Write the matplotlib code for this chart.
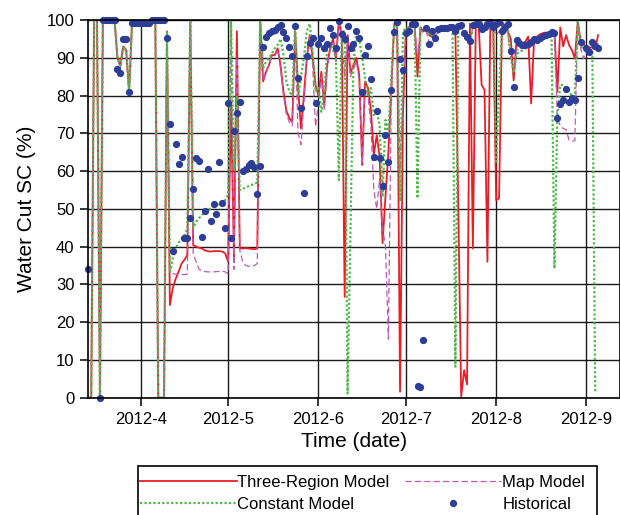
import numpy as np
import matplotlib.pyplot as plt
import matplotlib.dates as mdates
from matplotlib.patches import Rectangle
from matplotlib.ticker import FuncFormatter

plt.rcParams['font.family'] = ['Liberation Sans', 'DejaVu Sans']

# daily values starting 2012-03-14
start = np.datetime64('2012-03-14')

three_region = [
    0, 0, 100, 100, 0, 100, 100, 100, 100, 100,
    90, 88, 93, 92, 81, 99, 99, 99, 99, 99.5,
    99.5, 100, 100, 100, 0, 0, 0, 97, 24.5, 29,
    31.5, 33.4, 35.5, 36.5, 37.8, 100, 40.4, 40, 39.7, 39.5,
    39, 38.8, 38.7, 38.8, 38.8, 38.8, 38.7, 38.2, 36, 78,
    37, 97, 39.5, 39.5, 39.6, 39.5, 39.4, 39.3, 39.5, 100,
    83.7, 86.3, 88, 90.7, 90.7, 92.5, 88, 81, 76, 74,
    73, 97, 82, 71.3, 80, 90, 96, 90, 82.8, 80,
    86.3, 77.5, 88, 92.5, 95, 90, 99.7, 96, 26.7, 96,
    86, 88, 90, 85.4, 61.6, 83.7, 82, 76.2, 64.3, 69.5,
    63.8, 40.9, 53.2, 65, 81.5, 99, 99, 1.6, 75, 97,
    98, 99, 99, 85, 98, 97, 98, 96, 95.5, 97,
    97.5, 97.5, 97.5, 97.5, 98, 98, 97, 50, 0.3, 7.3,
    3.5, 99, 39.5, 99, 98.5, 82.8, 81.5, 36, 99.5, 98.5,
    52.3, 52.8, 99.5, 98.5, 97, 95, 84, 94.7, 94, 93.8,
    94.3, 95.6, 77.9, 94.7, 95.6, 96.2, 96.5, 96.7, 96.2, 95.8,
    97, 81, 98, 93, 96, 93.4, 92, 89.8, 99.6, 94.3,
    93.5, 93, 92.5, 93, 92.5, 96,
]

map_model = [
    0, 0, 100, 100, 0, 100, 100, 100, 100, 100,
    90, 87, 92.5, 92, 81, 99, 99, 99, 99, 99.5,
    99.5, 100, 100, 100, 0, 0, 0, 97, 33, 32.8,
    32.7, 32.6, 32.6, 32.6, 32.7, 100, 38, 36, 34, 33.6,
    33.4, 33.3, 33.3, 33.3, 33.4, 33.4, 33.5, 33.3, 32.8, 100,
    34, 90, 39, 36, 35, 34.8, 34.8, 35, 35.5, 100,
    84, 86, 88, 90.5, 90.5, 92, 87, 80, 75, 73,
    72, 96, 70, 67, 78, 89, 96, 88, 71.8, 78,
    85, 76, 87, 92, 94, 89, 99, 95, 85, 95,
    85, 87, 89, 84, 62, 82, 80, 72, 55, 50,
    58, 45, 40, 15.5, 80, 99, 98, 60, 80, 97,
    97.5, 98.5, 98.5, 90, 97.5, 96.5, 97, 94, 93, 96,
    96.5, 97, 97, 97, 97.5, 97.5, 97.5, 97, 98, 96,
    95, 94, 98, 98.5, 98.5, 97, 97.5, 98.5, 99, 98,
    96, 97, 97, 97.5, 96.5, 90, 87, 92, 92.5, 92.5,
    92.5, 92.5, 93, 93.5, 94, 94.5, 95, 95, 95.5, 96,
    96, 74, 72, 71.3, 71, 68.2, 68, 68, 100, 92.5,
    89.8, 92, 91, 92.5, 92, 94,
]

constant = [
    0, 0, 100, 100, 0, 100, 100, 100, 100, 100,
    90, 88, 93, 92, 81, 99, 99, 99, 99, 99.5,
    99.5, 100, 100, 100, 0, 0, 0, 97, 33, 37,
    39.5, 41, 42, 43, 44.8, 100, 45, 46.6, 47.5, 48.4,
    49, 49.7, 50.1, 50.5, 51, 51.3, 51.8, 52.3, 53.7, 100,
    60, 80, 55, 55.3, 55.6, 56, 56.3, 56.6, 57, 100,
    87.2, 89, 90, 91, 92.5, 93.4, 95, 90.7, 83.7, 81,
    80, 99, 80, 85, 90, 97, 99, 92, 81, 82,
    75.7, 81, 92.5, 94, 92, 90, 57.6, 97, 97, 1.1,
    45, 88, 97, 95, 90, 84.6, 80, 82, 74.8, 76,
    72.2, 53.2, 73.5, 70, 85, 99, 99, 52, 97, 98,
    98, 98.5, 98.5, 52.8, 98, 97.5, 98, 96, 96, 97.5,
    97.5, 97.5, 97.5, 97.5, 98, 98, 8.2, 98, 98, 96,
    95, 94, 98, 98.5, 98.5, 97, 97.5, 98.5, 99, 98,
    62.5, 82, 98, 98, 97, 90, 86, 91, 91.5, 92,
    92.5, 93, 93.5, 94, 94.5, 95, 95.5, 95.5, 96, 96,
    34.2, 75, 82.8, 82.8, 82, 81, 80, 79.7, 99.6, 93,
    92.5, 92, 92, 92, 1.5,
]

nan = np.nan
historical = [
    34, nan, nan, nan, 0, 100, 100, 100, 100, 100,
    87, 86, 95, 95, 81, 99.1, 99.1, 99.1, 99.1, 99.1,
    99.1, 99.1, 100, 100, 100, 100, 100, 95.1, 72.4, 38.8,
    67.1, 62, 63.8, 42.2, 42.2, 47.5, 55.2, 63.4, 62.7, 42.6,
    49.5, 60.5, 46.9, 51.2, 48.5, 62.5, 51.5, 45, 78, 42.4,
    70.6, 75.3, 78.2, 60.1, 60.5, 61.6, 62.2, 61.2, 53.8, 61.4,
    92.9, 95.6, 96.5, 97.1, 97.4, 98.2, 98.7, 96.7, 95.3, 92.9,
    90.5, 98.5, 84.7, 76.6, 54.3, 90.5, 94, 95.3, 78, 93.6,
    95.1, 92.7, 93.6, 97.8, 95.9, 92.5, 99.7, 96.2, 95, 98.5,
    92.7, 93.6, 97.1, 95.3, 81, 90.6, 93.2, 84.4, 63.8, 75.9,
    63.4, 56, 69.5, 62.5, 81.5, 96.9, 99.4, 89.8, 86.8, 96.5,
    97.1, 98.9, 98.9, 3.2, 2.7, 15.3, 98, 93.6, 97.1, 95.3,
    97.6, 97.8, 97.8, 97.9, 98.2, 98.2, 97.1, 98.5, 98.7, 96.5,
    95.6, 94.4, 98.7, 98.9, 98.9, 97.6, 98.2, 98.9, 99.4, 98.2,
    99, 99.5, 97.2, 98.2, 98.9, 91.8, 82.3, 94.7, 93.8, 93.4,
    93.4, 93.6, 94.3, 95, 94.7, 95.3, 95.8, 96, 96.2, 96.9,
    96.5, 74.1, 77.7, 78.8, 81.7, 78.4, 79.4, 78.8, 84.6, 94.1,
    nan, 92.7, 91.6, 94.1, 93, 92.7,
]


def days(values):
    return start + np.arange(len(values))


fig = plt.figure(figsize=(6.2, 5.15), dpi=100)
ax = fig.add_axes([0.1424, 0.2278, 0.8576, 0.7334])

l1, = ax.plot(days(three_region), three_region, color='#ec1c24', lw=1.3,
              label='Three-Region Model')
l2, = ax.plot(days(map_model), map_model, color='#c159b4', lw=0.9,
              dashes=(5, 2.5), label='Map Model')
l3, = ax.plot(days(constant), constant, color='#4fb848', lw=1.6,
              dashes=(1, 1), label='Constant Model')
l4, = ax.plot(days(historical), historical, 'o', ms=4.2, color='#2c3e98',
              clip_on=False, label='Historical')

ax.set_ylim(0, 100)
ax.set_yticks(range(0, 101, 10))
ax.set_xlim(start, np.datetime64('2012-09-12T12'))
ax.xaxis.set_major_locator(mdates.MonthLocator(bymonthday=1))
ax.xaxis.set_major_formatter(FuncFormatter(
    lambda v, pos: '{}-{}'.format(mdates.num2date(v).year, mdates.num2date(v).month)))

ax.grid(True, color='#1a1a1a', lw=1.0)
ax.set_axisbelow(True)
for s in ax.spines.values():
    s.set_linewidth(1.2)
ax.tick_params(direction='out', length=6, width=1.1, labelsize=12, pad=4)

ax.set_xlabel('Time (date)', fontsize=15, labelpad=4)
ax.set_ylabel('Water Cut SC (%)', fontsize=15, labelpad=8)

# legend entries without frame; the box runs off the bottom edge
leg = fig.legend([l1, l3, l2, l4],
                 ['Three-Region Model', 'Constant Model', 'Map Model', 'Historical'],
                 loc='upper left', bbox_to_anchor=(0.2258, 0.0786),
                 bbox_transform=fig.transFigure, ncol=2, fontsize=12,
                 handlelength=5.8, handletextpad=0.05, columnspacing=0.9,
                 labelspacing=0.42, borderpad=0, borderaxespad=0,
                 frameon=False)
fig.patches.append(Rectangle((0.2218, -0.05), 0.7412, 0.1451,
                             transform=fig.transFigure, fill=False,
                             edgecolor='black', lw=1.2))

fig.savefig('out.png', dpi=100)
